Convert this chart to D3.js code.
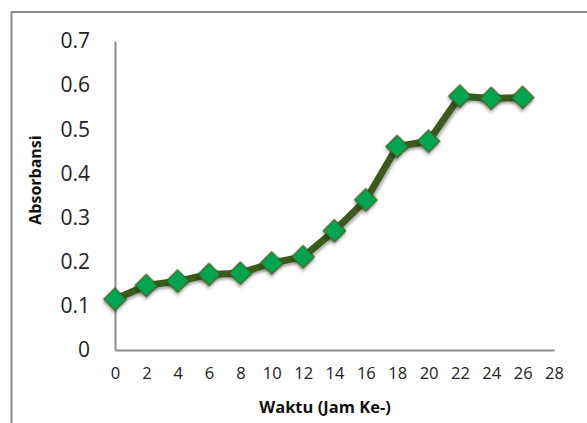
<!DOCTYPE html>
<html>
<head>
<meta charset="utf-8">
<script src="https://cdn.jsdelivr.net/npm/d3@7"></script>
<style>
  html, body { margin: 0; padding: 0; background: #fff; }
  svg { display: block; }
</style>
</head>
<body>
<div id="chart"></div>
<script>
// Data
const hours = [0, 2, 4, 6, 8, 10, 12, 14, 16, 18, 20, 22, 24, 26];
const absorbance = [0.115, 0.146, 0.156, 0.171, 0.174, 0.197, 0.211, 0.270, 0.340, 0.461, 0.473, 0.575, 0.570, 0.572];
const xTicks = [0, 2, 4, 6, 8, 10, 12, 14, 16, 18, 20, 22, 24, 26, 28];
const yTicks = [0, 0.1, 0.2, 0.3, 0.4, 0.5, 0.6, 0.7];
const xTitle = "Waktu (Jam Ke-)";
const yTitle = "Absorbansi";

const W = 587, H = 423;
const svg = d3.select("#chart").append("svg").attr("width", W).attr("height", H);

const defs = svg.append("defs");
const f = defs.append("filter").attr("id", "shadow").attr("x", "-50%").attr("y", "-50%").attr("width", "200%").attr("height", "200%");
f.append("feDropShadow").attr("dx", 1.5).attr("dy", 2).attr("stdDeviation", 1.5)
  .attr("flood-color", "#000").attr("flood-opacity", 0.35);

// Outer frame (cropped at right and bottom)
svg.append("rect").attr("x", 11.5).attr("y", 12).attr("width", 620).attr("height", 460)
  .attr("fill", "none").attr("stroke", "#8c8c8c").attr("stroke-width", 2);

const x = d3.scaleLinear().domain([0, 28]).range([115, 554]);
const y = d3.scaleLinear().domain([0, 0.7]).range([350, 41]);

const font = "'Open Sans', 'Liberation Sans', sans-serif";

// Axes
const xAxis = svg.append("g").attr("transform", `translate(0,${y(0)})`)
  .call(d3.axisBottom(x).tickValues(xTicks).tickSize(0).tickPadding(17).tickFormat(d3.format("d")));
xAxis.select(".domain").attr("stroke", "#8c8c8c").attr("stroke-width", 2);
xAxis.selectAll("text").attr("font-family", font).attr("font-size", 16.5).attr("fill", "#222");

const yAxis = svg.append("g").attr("transform", `translate(${x(0)},0)`)
  .call(d3.axisLeft(y).tickValues(yTicks).tickSize(0).tickPadding(25)
    .tickFormat(d => d === 0 ? "0" : d3.format(".1f")(d)));
yAxis.select(".domain").attr("stroke", "#8c8c8c").attr("stroke-width", 2);
yAxis.selectAll("text").attr("font-family", font).attr("font-size", 21).attr("fill", "#222");

// Titles
svg.append("text").attr("x", 325).attr("y", 413).attr("text-anchor", "middle")
  .attr("font-family", font).attr("font-weight", "bold").attr("font-size", 16.5).attr("fill", "#111")
  .text(xTitle);
svg.append("text").attr("transform", "translate(41,180) rotate(-90)").attr("text-anchor", "middle")
  .attr("font-family", font).attr("font-weight", "bold").attr("font-size", 16).attr("fill", "#111")
  .text(yTitle);

const pts = hours.map((h, i) => [h, absorbance[i]]);

// Line
svg.append("path").datum(pts)
  .attr("d", d3.line().x(d => x(d[0])).y(d => y(d[1])))
  .attr("fill", "none").attr("stroke", "#3b5a1f").attr("stroke-width", 7)
  .attr("stroke-linejoin", "round").attr("filter", "url(#shadow)");

// Markers
const sym = d3.symbol().type(d3.symbolSquare).size(250);
svg.append("g").selectAll("path").data(pts).join("path")
  .attr("d", sym)
  .attr("transform", d => `translate(${x(d[0])},${y(d[1])}) rotate(45)`)
  .attr("fill", "#00a650").attr("stroke", "#3b5a1f").attr("stroke-width", 1.3)
  .attr("filter", "url(#shadow)");
</script>
</body>
</html>
